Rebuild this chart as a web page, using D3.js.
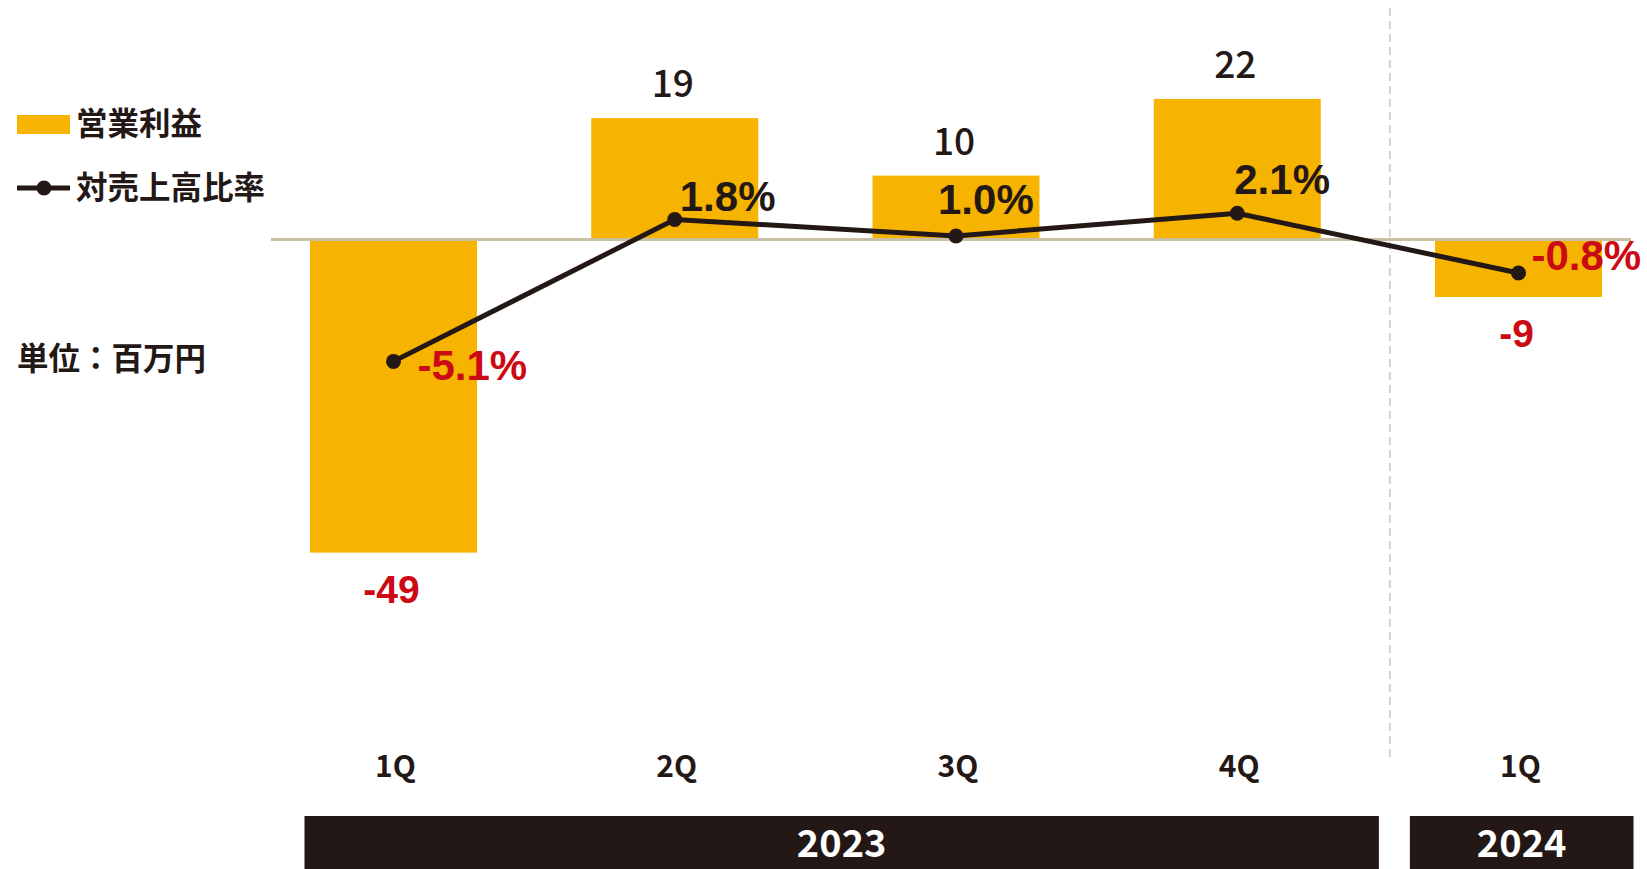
<!DOCTYPE html>
<meta charset="utf-8">
<script src="https://d3js.org/d3.v7.min.js"></script>
<style>
  body { margin: 0; background: #fff; }
  text { font-family: "Noto Sans CJK JP", "Noto Sans", sans-serif; }
  text.latin { font-family: "Liberation Sans", Arial, sans-serif; }
</style>
<div id="chart"></div>
<script>

// data
var quarters = ["1Q", "2Q", "3Q", "4Q", "1Q"];
var years = ["2023", "2023", "2023", "2023", "2024"];
var profit = [-49, 19, 10, 22, -9];          // 営業利益 (百万円)
var ratio = [-5.1, 1.8, 1.0, 2.1, -0.8];     // 対売上高比率 (%)
var yearGroups = ["2023", "2024"];

// label nudges for the ratio labels (px, relative to the point)
var ratioLabelDx = [24, 5, -18, -3, 13];
var ratioLabelDy = [19, -8, -22, -19, -3];

var W = 1647, H = 869;
var barColor = "#f6b400", ink = "#231815", red = "#cc0a14";

var svg = d3.select("#chart").append("svg")
  .attr("width", W).attr("height", H);

var idx = d3.range(quarters.length);

var x = d3.scalePoint().domain(idx).range([393.5, 1518.5]);
var barW = 167;

// bars and line use separate vertical scales
var yBar = d3.scaleLinear().domain([-60, 30]).range([622.9, 47.8]);
var yLine = d3.scaleLinear().domain([-6, 3]).range([379.9, 194.8]);

// dashed divider between the years
var divX = (x(3) + x(4)) / 2 + 12;
svg.append("line")
  .attr("x1", divX).attr("x2", divX)
  .attr("y1", 8).attr("y2", 758)
  .attr("stroke", "#c8c8c8").attr("stroke-width", 1.5)
  .attr("stroke-dasharray", "8,5");

// bars
svg.selectAll(".bar").data(idx).enter().append("rect")
  .attr("class", "bar")
  .attr("x", function(i) { return x(i) - barW / 2; })
  .attr("width", barW)
  .attr("y", function(i) { return Math.min(yBar(profit[i]), yBar(0)); })
  .attr("height", function(i) { return Math.abs(yBar(profit[i]) - yBar(0)); })
  .attr("fill", barColor);

// zero line
svg.append("line")
  .attr("x1", 271).attr("x2", 1631)
  .attr("y1", yBar(0)).attr("y2", yBar(0))
  .attr("stroke", "#c9bfa5").attr("stroke-width", 3);

// bar value labels: positives in dark medium, negatives in red bold
svg.selectAll(".val").data(idx).enter().append("text")
  .attr("class", function(i) { return profit[i] < 0 ? "val latin" : "val"; })
  .attr("x", function(i) { return profit[i] >= 0 ? x(i) - 2 : x(i) - 2; })
  .attr("y", function(i) {
    return profit[i] >= 0 ? yBar(profit[i]) - 21 : yBar(profit[i]) + 50;
  })
  .attr("text-anchor", "middle")
  .attr("font-size", function(i) { return profit[i] < 0 ? 39 : 37; })
  .attr("font-weight", function(i) { return profit[i] < 0 ? "bold" : 500; })
  .attr("fill", function(i) { return profit[i] < 0 ? red : ink; })
  .text(function(i) { return profit[i]; });

// ratio line
var line = d3.line()
  .x(function(i) { return x(i); })
  .y(function(i) { return yLine(ratio[i]); });

svg.append("path")
  .datum(idx)
  .attr("d", line)
  .attr("fill", "none")
  .attr("stroke", ink)
  .attr("stroke-width", 5);

svg.selectAll(".dot").data(idx).enter().append("circle")
  .attr("cx", function(i) { return x(i); })
  .attr("cy", function(i) { return yLine(ratio[i]); })
  .attr("r", 7.5)
  .attr("fill", ink);

svg.selectAll(".pct").data(idx).enter().append("text")
  .attr("class", "pct latin")
  .attr("x", function(i) { return x(i) + ratioLabelDx[i]; })
  .attr("y", function(i) { return yLine(ratio[i]) + ratioLabelDy[i]; })
  .attr("font-size", 42)
  .attr("font-weight", "bold")
  .attr("fill", function(i) { return ratio[i] < 0 ? red : ink; })
  .text(function(i) { return ratio[i].toFixed(1) + "%"; });

// quarter labels
svg.selectAll(".q").data(idx).enter().append("text")
  .attr("x", function(i) { return x(i) + 2; })
  .attr("y", 777)
  .attr("text-anchor", "middle")
  .attr("font-size", 30)
  .attr("font-weight", "bold")
  .attr("fill", ink)
  .text(function(i) { return quarters[i]; });

// year bands
var bands = yearGroups.map(function(yr) {
  var members = idx.filter(function(i) { return years[i] === yr; });
  return { year: yr, first: d3.min(members), last: d3.max(members) };
});
bands.forEach(function(b, k) {
  var x0 = k === 0 ? x(b.first) - 89 : divX + 20;
  var x1 = k === 0 ? divX - 11 : x(b.last) + 115;
  svg.append("rect")
    .attr("x", x0).attr("y", 816)
    .attr("width", x1 - x0).attr("height", H - 816)
    .attr("fill", ink);
  svg.append("text")
    .attr("x", (x0 + x1) / 2).attr("y", 857)
    .attr("text-anchor", "middle")
    .attr("font-size", 38)
    .attr("font-weight", "bold")
    .attr("fill", "#fff")
    .text(b.year);
});

// legend
svg.append("rect")
  .attr("x", 17).attr("y", 115).attr("width", 53).attr("height", 19)
  .attr("fill", barColor);
svg.append("text")
  .attr("x", 76).attr("y", 135)
  .attr("font-size", 31.5).attr("font-weight", "bold").attr("fill", ink)
  .text("営業利益");

svg.append("line")
  .attr("x1", 17).attr("x2", 70).attr("y1", 188).attr("y2", 188)
  .attr("stroke", ink).attr("stroke-width", 5);
svg.append("circle")
  .attr("cx", 44).attr("cy", 188).attr("r", 7.5).attr("fill", ink);
svg.append("text")
  .attr("x", 76).attr("y", 199)
  .attr("font-size", 31.5).attr("font-weight", "bold").attr("fill", ink)
  .text("対売上高比率");

svg.append("text")
  .attr("x", 17).attr("y", 370)
  .attr("font-size", 31.5).attr("font-weight", "bold").attr("fill", ink)
  .text("単位：百万円");

</script>
